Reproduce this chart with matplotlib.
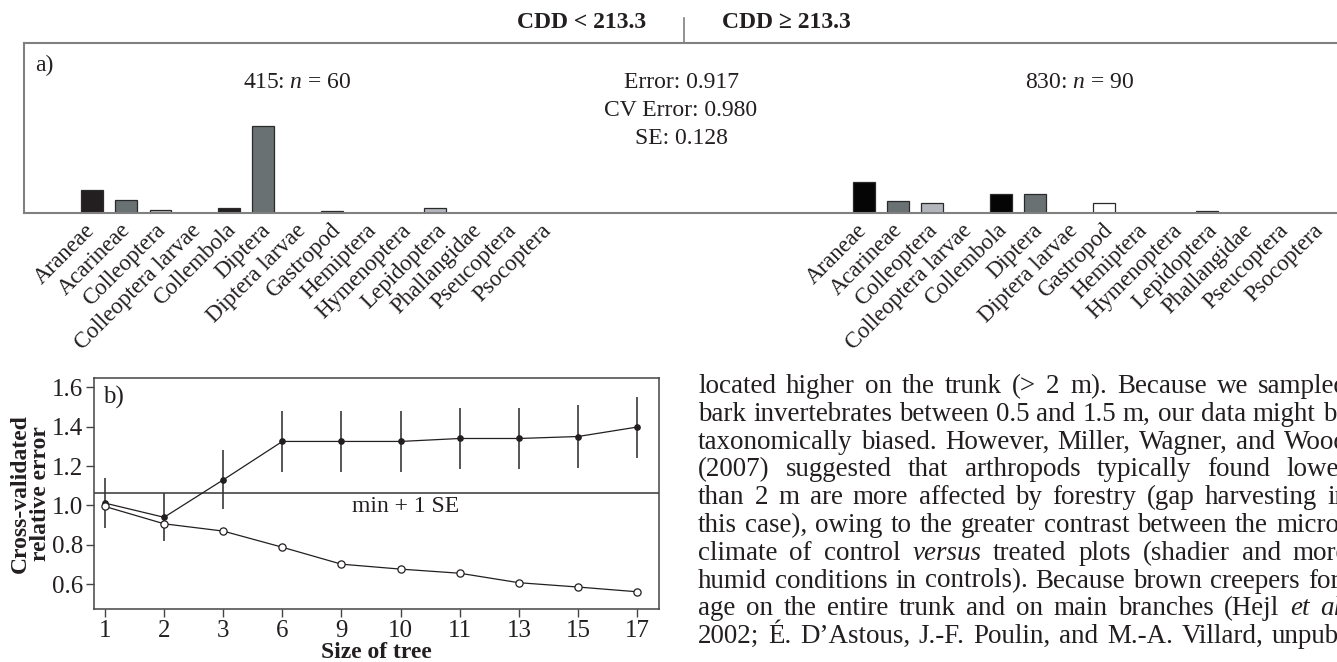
import matplotlib
matplotlib.use("Agg")
import matplotlib.pyplot as plt
import numpy as np
from matplotlib.lines import Line2D

# ---- data ----
taxa = ["Araneae", "Acarineae", "Colleoptera", "Colleoptera larvae", "Collembola",
        "Diptera", "Diptera larvae", "Gastropod", "Hemiptera", "Hymenoptera",
        "Lepidoptera", "Phallangidae", "Pseucoptera", "Psocoptera"]
# relative mean abundance in each leaf of the tree
low_vals = [0.135, 0.076, 0.019, 0.0, 0.031, 0.512, 0.0, 0.016, 0.0, 0.0, 0.029, 0.0, 0.0, 0.0]
high_vals = [0.182, 0.074, 0.059, 0.0, 0.111, 0.111, 0.0, 0.059, 0.0, 0.0, 0.016, 0.0, 0.0, 0.0]
low_colors = ["#231f20", "#6a7173", "#b3b7bd", "#ffffff", "#231f20", "#6a7173", "#b3b7bd",
              "#5c6264", "#231f20", "#6a7173", "#b3b7bd", "#ffffff", "#231f20", "#6a7173"]
high_colors = ["#050505", "#6a7173", "#b3b7bd", "#ffffff", "#050505", "#6a7173", "#b3b7bd",
               "#ffffff", "#231f20", "#6a7173", "#231f20", "#ffffff", "#231f20", "#6a7173"]
low_n, high_n = 60, 90
low_node, high_node = 415, 830
tree_error, tree_cv_error, tree_se = 0.917, 0.980, 0.128

tree_sizes = [1, 2, 3, 6, 9, 10, 11, 13, 15, 17]
cv_err = [1.012, 0.940, 1.130, 1.325, 1.325, 1.325, 1.340, 1.340, 1.350, 1.398]
cv_se = [0.128, 0.122, 0.150, 0.157, 0.157, 0.157, 0.157, 0.157, 0.160, 0.155]
rel_err = [0.995, 0.907, 0.870, 0.788, 0.702, 0.677, 0.656, 0.608, 0.586, 0.562]

para_lines = [
    "located higher on the trunk (> 2 m). Because we sampled",
    "bark invertebrates between 0.5 and 1.5 m, our data might be",
    "taxonomically biased. However, Miller, Wagner, and Wood",
    "(2007) suggested that arthropods typically found lower",
    "than 2 m are more affected by forestry (gap harvesting in",
    "this case), owing to the greater contrast between the micro-",
    "climate of control *versus* treated plots (shadier and more",
    "humid conditions in controls). Because brown creepers for-",
    "age on the entire trunk and on main branches (Hejl *et* *al.*",
    "2002; \u00c9. D\u2019Astous, J.-F. Poulin, and M.-A. Villard, unpub-",
]

# ---- style ----
plt.rcParams["font.family"] = ["Liberation Serif", "DejaVu Serif"]
plt.rcParams["mathtext.fontset"] = "custom"
plt.rcParams["mathtext.rm"] = "Liberation Serif"
plt.rcParams["mathtext.it"] = "Liberation Serif:italic"
plt.rcParams["mathtext.bf"] = "Liberation Serif:bold"
TXT = "#231f20"
W, H = 1337, 662


def fx(x):
    return x / W


def fy(y):
    return 1 - y / H


fig = plt.figure(figsize=(W / 100, H / 100), dpi=100)

# ---- panel a ----
ax1 = fig.add_axes([fx(24), fy(213.3), 1336 / W, 170.6 / H])
left_x = np.arange(len(taxa))
right_x = np.arange(len(taxa)) + 22.5
ax1.bar(left_x, low_vals, width=0.64, color=low_colors, edgecolor="#2a2a2a", linewidth=0.9)
ax1.bar(right_x, high_vals, width=0.64, color=high_colors, edgecolor="#2a2a2a", linewidth=0.9)
ax1.set_xlim(-1.98, 36.97)
ax1.set_ylim(0, 1)
ax1.set_yticks([])
# the labels sit on a slightly wider pitch than the bars
label_step = 1.023
label_pos = np.concatenate([left_x * label_step, 22.5 + left_x * label_step])
ax1.set_xticks(label_pos)
ax1.set_xticklabels(taxa + taxa, rotation=45, ha="right", va="center",
                    rotation_mode="anchor", fontsize=16.5, color=TXT)
ax1.tick_params(axis="x", length=0, pad=10)
for s in ax1.spines.values():
    s.set_color("#808080")
    s.set_linewidth(1.5)
ax1.spines["right"].set_visible(False)

fig.text(fx(35), fy(65), "a)", ha="left", va="center", fontsize=17, color=TXT)
fig.text(fx(297), fy(83), f"{low_node}: $n$ = {low_n}", ha="center", va="center",
         fontsize=17, color=TXT)
fig.text(fx(1080), fy(83), f"{high_node}: $n$ = {high_n}", ha="center", va="center",
         fontsize=17, color=TXT)
fig.text(fx(681), fy(82), f"Error: {tree_error:.3f}", ha="center", va="center", fontsize=17, color=TXT)
fig.text(fx(681), fy(110), f"CV Error: {tree_cv_error:.3f}", ha="center", va="center", fontsize=17, color=TXT)
fig.text(fx(681), fy(138), f"SE: {tree_se:.3f}", ha="center", va="center", fontsize=17, color=TXT)

fig.text(fx(582), fy(22), "CDD < 213.3", ha="center", va="center", fontsize=17,
         weight="bold", color=TXT)
fig.text(fx(786), fy(22), "CDD \u2265 213.3", ha="center", va="center", fontsize=17,
         weight="bold", color=TXT)
fig.add_artist(Line2D([fx(684), fx(684)], [fy(18), fy(42)], color="#808080", lw=1.2))

# ---- panel b ----
ax2 = fig.add_axes([fx(94.3), fy(609.3), 564.7 / W, 231.3 / H])
pos = np.arange(len(tree_sizes))
ax2.errorbar(pos, cv_err, yerr=cv_se, fmt="-o", color=TXT, ms=3.8, lw=0.9,
             ecolor="#3a3a3a", elinewidth=1.2, capsize=0, zorder=2)
ax2.plot(pos, rel_err, "-o", color=TXT, mfc="white", mec=TXT, ms=5.2, mew=0.9,
         lw=0.9, zorder=3)
imin = int(np.argmin(cv_err))
ax2.axhline(cv_err[imin] + cv_se[imin], color="#444444", lw=1.2, zorder=1)
ax2.text(fx(352), fy(507), "min + 1 SE", transform=fig.transFigure, ha="left",
         va="center", fontsize=17, color=TXT)
ax2.text(fx(103), fy(397), "b)", transform=fig.transFigure, ha="left",
         va="center", fontsize=18, color=TXT)
ax2.set_xlim(-0.18, 9.37)
ax2.set_ylim(0.473, 1.647)
ax2.set_xticks(pos)
ax2.set_xticklabels([str(s) for s in tree_sizes])
ax2.set_yticks([0.6, 0.8, 1.0, 1.2, 1.4, 1.6])
ax2.set_yticklabels([f"{v:.1f}" for v in [0.6, 0.8, 1.0, 1.2, 1.4, 1.6]])
ax2.tick_params(length=6, width=1, color="#444444", labelsize=18, pad=2,
                labelcolor=TXT)
for s in ax2.spines.values():
    s.set_color("#444444")
    s.set_linewidth(1.1)
ax2.set_xlabel("Size of tree", fontsize=17, weight="bold", color=TXT, labelpad=0)
ax2.set_ylabel("Cross-validated\nrelative error", fontsize=17, weight="bold",
               color=TXT, linespacing=0.95)
ax2.yaxis.set_label_coords(-0.077, 0.5)

# ---- justified paragraph text on the right ----
renderer = fig.canvas.get_renderer()
L, R = 698, 1348
y0, dy = 393, 27.8


def split_words(line):
    out = []
    for w in line.split(" "):
        if w.startswith("*") and w.endswith("*"):
            out.append((w.strip("*"), "italic"))
        else:
            out.append((w, "normal"))
    return out


def word_width(word, style, size):
    t = fig.text(0, 0, word, fontsize=size, style=style)
    wd = t.get_window_extent(renderer).width
    t.remove()
    return wd


# pick the size so the longest line fits the column with normal spacing
base = 17.0
natural = []
for line in para_lines:
    ws = split_words(line)
    total = sum(word_width(w, st, base) for w, st in ws)
    natural.append(total + (len(ws) - 1) * 0.25 * base * 100 / 72)
para_size = base * (R - L) / max(natural)

for i, line in enumerate(para_lines):
    ws = split_words(line)
    texts = []
    widths = []
    for w, st in ws:
        t = fig.text(0, fy(y0 + i * dy), w, fontsize=para_size, style=st, color=TXT,
                     ha="left", va="baseline")
        texts.append(t)
        widths.append(t.get_window_extent(renderer).width)
    gap = (R - L - sum(widths)) / max(len(ws) - 1, 1)
    x = L
    for t, wd in zip(texts, widths):
        t.set_x(fx(x))
        x += wd + gap

fig.savefig("out.png", dpi=100)
